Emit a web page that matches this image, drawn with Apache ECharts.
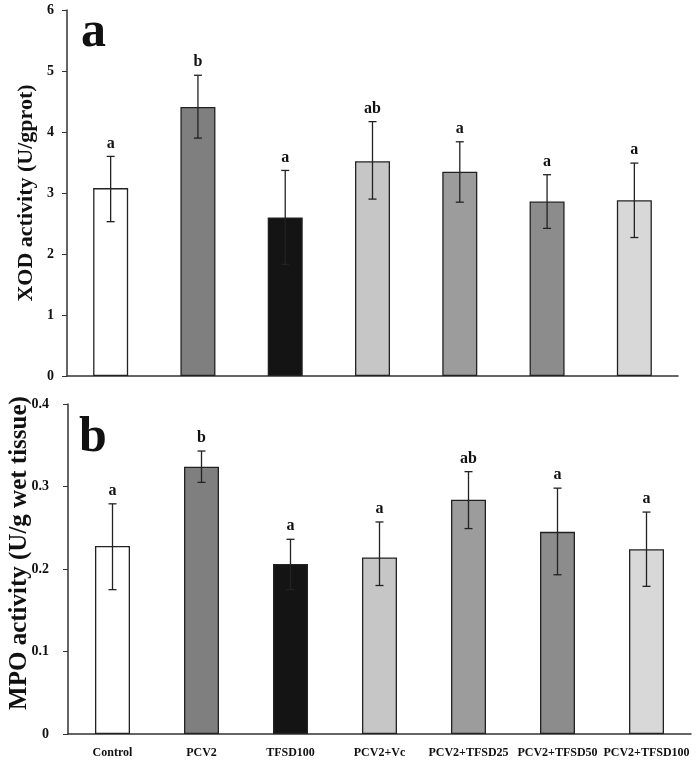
<!DOCTYPE html>
<html>
<head>
<meta charset="utf-8">
<script src="https://cdn.jsdelivr.net/npm/echarts@6/dist/echarts.min.js"></script>
<style>
html,body{margin:0;padding:0;background:#fff;}
#chart{width:697px;height:762px;}
</style>
</head>
<body>
<div id="chart"></div>
<script>
var categories = ['Control','PCV2','TFSD100','PCV2+Vc','PCV2+TFSD25','PCV2+TFSD50','PCV2+TFSD100'];
var barColors = ['#ffffff','#7f7f7f','#141414','#c6c6c6','#9c9c9c','#8c8c8c','#d8d8d8'];

var xodMean = [3.08, 4.41, 2.60, 3.52, 3.35, 2.86, 2.88];
var xodHigh = [3.60, 4.93, 3.37, 4.17, 3.84, 3.30, 3.49];
var xodLow  = [2.53, 3.90, 1.83, 2.90, 2.85, 2.42, 2.27];
var xodLetters = ['a','b','a','ab','a','a','a'];
var xodTicks = [0,1,2,3,4,5,6];

var mpoMean = [0.228, 0.324, 0.206, 0.214, 0.284, 0.245, 0.224];
var mpoHigh = [0.279, 0.343, 0.236, 0.257, 0.318, 0.298, 0.269];
var mpoLow  = [0.175, 0.305, 0.175, 0.180, 0.249, 0.193, 0.179];
var mpoLetters = ['a','b','a','a','ab','a','a'];
var mpoTicks = [0,0.1,0.2,0.3,0.4];

var FONT = '"Liberation Serif","Times New Roman",serif';
var AX = '#333333';

function errSeries(xi, yi, low, high, letters){
  return {
    type:'custom', xAxisIndex:xi, yAxisIndex:yi, z:5,
    data: low.map(function(v,i){return [i, v, high[i]];}),
    renderItem:function(params, api){
      var i = api.value(0);
      var p1 = api.coord([i, api.value(1)]);
      var p2 = api.coord([i, api.value(2)]);
      var c = 4;
      var st = {stroke:'#222', lineWidth:1.3};
      return {type:'group', children:[
        {type:'line', shape:{x1:p1[0],y1:p1[1],x2:p2[0],y2:p2[1]}, style:st},
        {type:'line', shape:{x1:p1[0]-c,y1:p1[1],x2:p1[0]+c,y2:p1[1]}, style:st},
        {type:'line', shape:{x1:p2[0]-c,y1:p2[1],x2:p2[0]+c,y2:p2[1]}, style:st},
        {type:'text', style:{text:letters[params.dataIndex], x:p2[0], y:p2[1]-5,
          textAlign:'center', textVerticalAlign:'bottom', fill:'#111',
          font:'bold 16px '+FONT}}
      ]};
    }
  };
}

function barSeries(xi, yi, vals){
  return {
    type:'bar', xAxisIndex:xi, yAxisIndex:yi, barWidth:35, z:2,
    data: vals.map(function(v,i){
      return {value:v, itemStyle:{color:barColors[i], borderColor:'#222', borderWidth:1.3}};
    })
  };
}

function xAx(gi, showLabels){
  return {
    type:'category', gridIndex:gi, data:categories, boundaryGap:true,
    axisLine:{lineStyle:{color:AX, width:1.5}},
    axisTick:{alignWithLabel:true, length:4, lineStyle:{color:AX}},
    axisLabel:{show:showLabels, fontFamily:FONT, fontWeight:'bold', fontSize:12, color:'#111', margin:13, interval:0},
    splitLine:{show:false}
  };
}

function yAx(gi, ticks, name, gap, fs, lm, pad){
  return {
    type:'value', gridIndex:gi, min:ticks[0], max:ticks[ticks.length-1], interval:ticks[1]-ticks[0],
    name:name, nameLocation:'middle', nameGap:gap, nameMoveOverlap:false,
    nameTextStyle:{fontFamily:FONT, fontWeight:'bold', fontSize:fs, color:'#111', padding:pad},
    axisLine:{show:true, lineStyle:{color:AX, width:1.5}},
    axisTick:{show:true, length:5, lineStyle:{color:AX}},
    axisLabel:{fontFamily:FONT, fontWeight:'bold', fontSize:14, color:'#111', margin:lm},
    splitLine:{show:false}
  };
}

var chart = echarts.init(document.getElementById('chart'), null, {renderer:'canvas'});
chart.setOption({
  backgroundColor:'#ffffff',
  animation:false,
  grid:[
    {left:67, right:19, top:10, height:366, containLabel:false, outerBoundsMode:'none'},
    {left:68, right:6, top:404, height:330, containLabel:false, outerBoundsMode:'none'}
  ],
  title:[
    {text:'a', left:76, top:3, textStyle:{fontFamily:FONT, fontWeight:'bold', fontSize:50, color:'#111'}},
    {text:'b', left:74, top:408, textStyle:{fontFamily:FONT, fontWeight:'bold', fontSize:50, color:'#111'}}
  ],
  xAxis:[xAx(0,false), xAx(1,true)],
  yAxis:[
    yAx(0, xodTicks, 'XOD activity (U/gprot)', 30, 22, 13, [0,0,0,0]),
    yAx(1, mpoTicks, 'MPO activity (U/g wet tissue)', 36, 25, 19, [0,0,0,32])
  ],
  series:[
    barSeries(0,0,xodMean),
    errSeries(0,0,xodLow,xodHigh,xodLetters),
    barSeries(1,1,mpoMean),
    errSeries(1,1,mpoLow,mpoHigh,mpoLetters)
  ]
});
</script>
</body>
</html>
